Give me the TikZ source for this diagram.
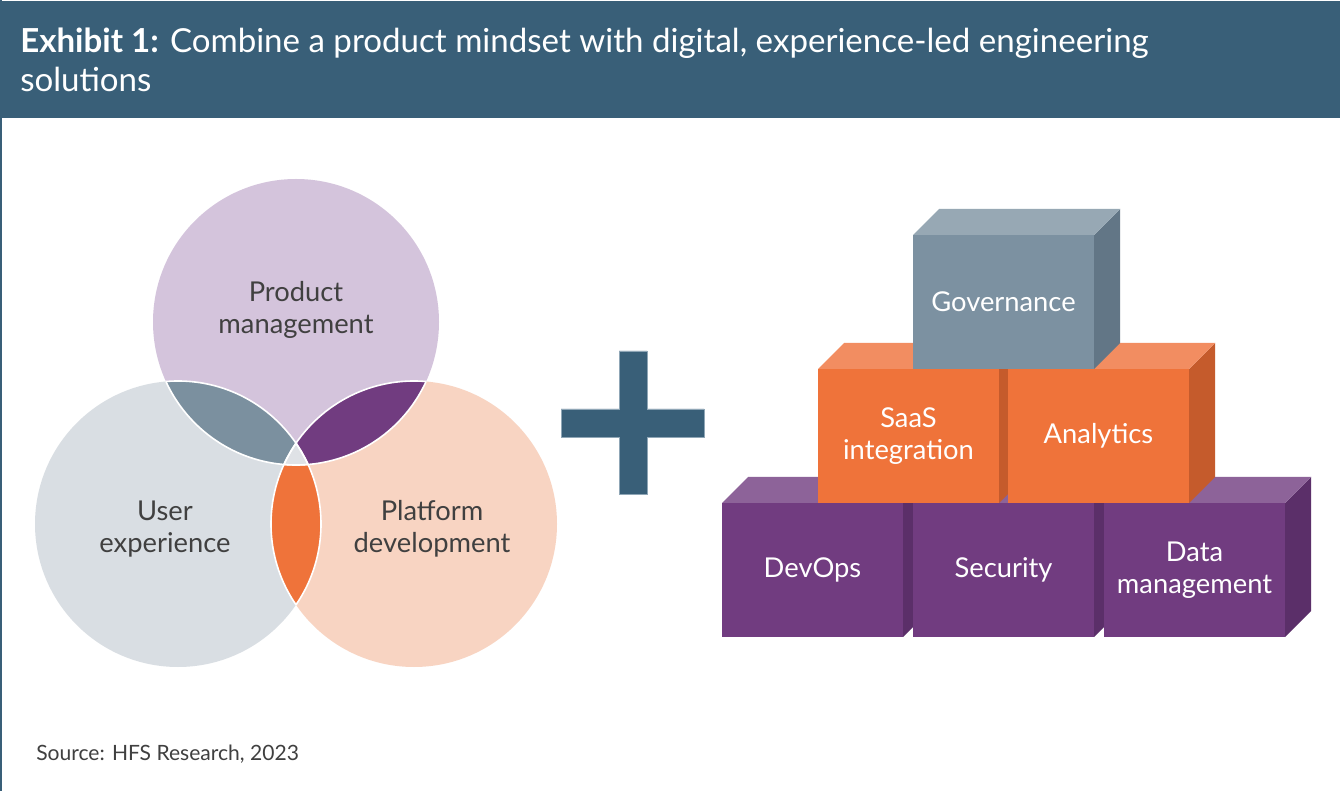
\documentclass[tikz,border=0pt]{standalone}
\usepackage{fontspec}
\setmainfont{Lato}
\definecolor{barblue}{HTML}{395F78}
\definecolor{plusedge}{HTML}{8FA6B6}
\definecolor{txtgray}{HTML}{404040}
\definecolor{prodc}{HTML}{D4C4DC}
\definecolor{userc}{HTML}{D9DEE3}
\definecolor{platc}{HTML}{F8D4C2}
\definecolor{lensblue}{HTML}{7B909F}
\definecolor{lenspurple}{HTML}{713C80}
\definecolor{lensorange}{HTML}{EF733A}
\definecolor{centerc}{HTML}{DFE2E6}
\definecolor{purplefront}{HTML}{713C80}
\definecolor{purpletop}{HTML}{8D6399}
\definecolor{purpleside}{HTML}{5B2F69}
\definecolor{orangefront}{HTML}{EF733A}
\definecolor{orangetop}{HTML}{F28D61}
\definecolor{orangeside}{HTML}{C55B2C}
\definecolor{grayfront}{HTML}{7C91A1}
\definecolor{graytop}{HTML}{97A8B4}
\definecolor{grayside}{HTML}{627686}
\newcommand{\cubeR}{107.25pt}
% #1 x, #2 y of front face top-left (px), #3 colour prefix, #4 node name, #5 label
\newcommand{\mycube}[5]{%
  \fill[#3side] (#1+181,#2) -- ++(26,-26) -- ++(0,134) -- ++(-26,26) -- cycle;
  \fill[#3top] (#1,#2) -- ++(26,-26) -- ++(181,0) -- ++(-26,26) -- cycle;
  \node[cubeface, fill=#3front] (#4) at (#1+90.5,#2+67) {#5};
}
\begin{document}
\begin{tikzpicture}[x=0.75pt,y=-0.75pt,
  cubeface/.style={rectangle, minimum width=135.75pt, minimum height=100.5pt,
    inner sep=0pt, text=white, align=center,
    font=\fontsize{20.5}{24}\selectfont},
  vennlabel/.style={align=center, text=txtgray, inner sep=0pt,
    font=\fontsize{20.5}{24}\selectfont},
  titletext/.style={anchor=base west, inner sep=0pt, text=white,
    font=\fontsize{24.8}{30}\selectfont},
  whiteline/.style={draw=white, line width=1.2pt}]
\useasboundingbox (0,0) rectangle (1340,791);
\fill[white] (0,0) rectangle (1340,791);
% title bar
\fill[barblue] (0,1.5) rectangle (1340,118);
\draw[barblue, line width=1.5pt] (1,0) -- (1,791);
\node[titletext] (title1) at (20,53)
  {\textbf{Exhibit 1:} Combine a product mindset with digital, experience-led engineering};
\node[titletext] (title2) at (20,92) {solutions};
% Venn
\coordinate (cP) at (296,322);
\coordinate (cU) at (178,524);
\coordinate (cL) at (414,524);
\fill[userc] (cU) circle[radius=\cubeR];
\fill[platc] (cL) circle[radius=\cubeR];
\fill[prodc] (cP) circle[radius=\cubeR];
\begin{scope}
  \clip (cP) circle[radius=\cubeR];
  \fill[lensblue] (cU) circle[radius=\cubeR];
  \fill[lenspurple] (cL) circle[radius=\cubeR];
\end{scope}
\begin{scope}
  \clip (cU) circle[radius=\cubeR];
  \fill[lensorange] (cL) circle[radius=\cubeR];
\end{scope}
\begin{scope}
  \clip (cU) circle[radius=\cubeR];
  \clip (cL) circle[radius=\cubeR];
  \fill[centerc] (cP) circle[radius=\cubeR];
\end{scope}
\begin{scope}
  \clip (cP) circle[radius=\cubeR];
  \draw[whiteline] (cU) circle[radius=\cubeR];
  \draw[whiteline] (cL) circle[radius=\cubeR];
\end{scope}
\begin{scope}
  \clip (cU) circle[radius=\cubeR];
  \draw[whiteline] (cP) circle[radius=\cubeR];
  \draw[whiteline] (cL) circle[radius=\cubeR];
\end{scope}
\begin{scope}
  \clip (cL) circle[radius=\cubeR];
  \draw[whiteline] (cP) circle[radius=\cubeR];
  \draw[whiteline] (cU) circle[radius=\cubeR];
\end{scope}
\node[vennlabel] (lprod) at (296,310) {Product\\management};
\node[vennlabel] (luser) at (165,529) {User\\experience};
\node[vennlabel] (lplat) at (432,529) {Platform\\development};
% plus
\filldraw[fill=barblue, draw=plusedge, line width=0.4pt]
  (619,351) -- (647,351) -- (647,409) -- (704,409) -- (704,437) -- (647,437)
  -- (647,494) -- (619,494) -- (619,437) -- (561,437) -- (561,409) -- (619,409) -- cycle;
% cubes
\mycube{722}{503}{purple}{devops}{DevOps}
\mycube{913}{503}{purple}{security}{Security}
\mycube{1104}{503}{purple}{datamgmt}{Data\\management}
\mycube{818}{369}{orange}{saas}{SaaS\\integration}
\mycube{1008}{369}{orange}{analytics}{Analytics}
\mycube{913}{235}{gray}{governance}{Governance}
% source
\node[anchor=base west, inner sep=0pt, text=txtgray, font=\fontsize{15.8}{18}\selectfont] (source) at (36,760)
  {Source: HFS Research, 2023};
\end{tikzpicture}
\end{document}
